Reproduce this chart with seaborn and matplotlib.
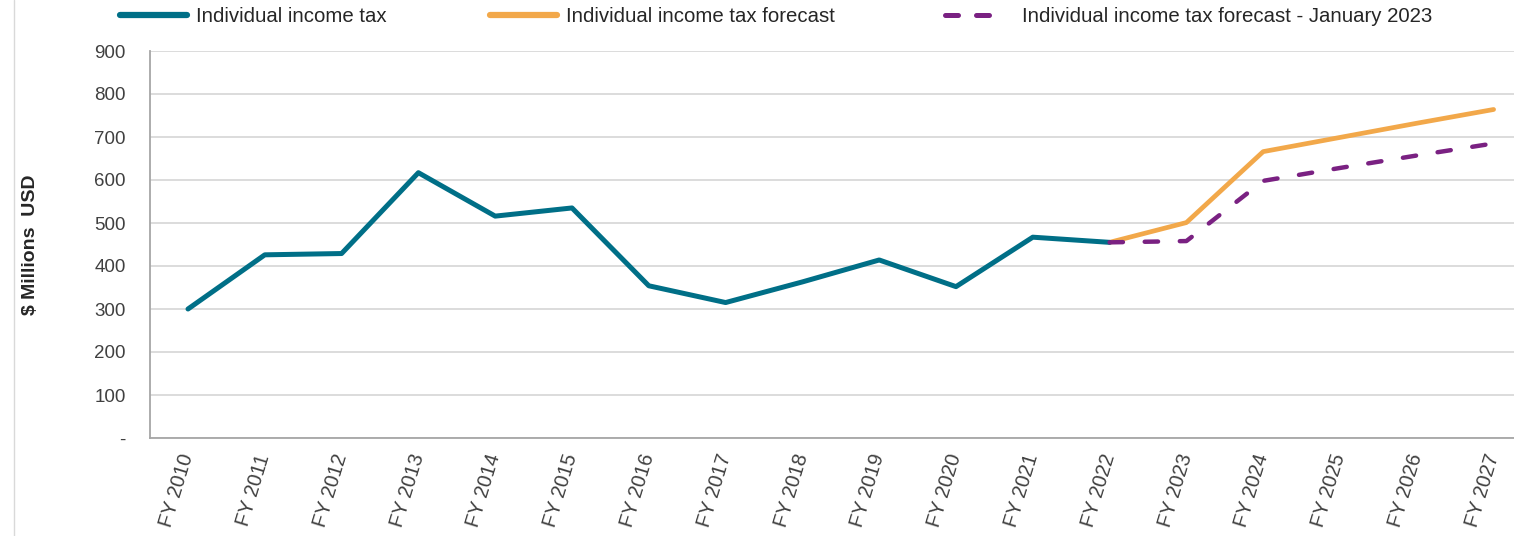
import matplotlib
matplotlib.use("Agg")
import matplotlib.pyplot as plt
import matplotlib.transforms as mtransforms
from matplotlib.lines import Line2D
import seaborn as sns
import pandas as pd

years = ["FY 2010", "FY 2011", "FY 2012", "FY 2013", "FY 2014", "FY 2015", "FY 2016",
         "FY 2017", "FY 2018", "FY 2019", "FY 2020", "FY 2021", "FY 2022", "FY 2023",
         "FY 2024", "FY 2025", "FY 2026", "FY 2027"]
actual_years = years[:13]
actual_vals = [300, 426, 429, 617, 516, 535, 354, 315, 363, 414, 352, 467, 455]
forecast_years = years[12:]
forecast_vals = [455, 501, 666, 699, 732, 764]
jan_vals = [455, 458, 598, 628, 657, 685]

names = ["Individual income tax", "Individual income tax forecast",
         "Individual income tax forecast - January 2023"]
colors = ["#006F87", "#F2A84A", "#7A2182"]

sns.set_theme(style="white")
plt.rcParams["font.family"] = ["Liberation Sans", "DejaVu Sans"]

W, H = 1514, 536
fig = plt.figure(figsize=(W / 100, H / 100), dpi=100)
left_px, right_px, top_px, bot_px = 149.6, 1532.0, 51.0, 438.0
ax = fig.add_axes([left_px / W, 1 - bot_px / H, (right_px - left_px) / W, (bot_px - top_px) / H])

df_a = pd.DataFrame({"year": actual_years, "value": actual_vals})
df_f = pd.DataFrame({"year": forecast_years, "value": forecast_vals})
df_j = pd.DataFrame({"year": forecast_years, "value": jan_vals})

DASH = [3.0, 4.9]
sns.lineplot(data=df_a, x="year", y="value", ax=ax, color=colors[0], linewidth=3.6,
             solid_capstyle="round", solid_joinstyle="round", sort=False, zorder=3)
sns.lineplot(data=df_f, x="year", y="value", ax=ax, color=colors[1], linewidth=3.4,
             solid_capstyle="round", solid_joinstyle="round", sort=False, zorder=2)
sns.lineplot(data=df_j, x="year", y="value", ax=ax, color=colors[2], linewidth=3.2,
             sort=False, zorder=4)
ln = ax.get_lines()[-1]
ln.set_dashes(DASH)
ln.set_dash_capstyle("round")

ax.set_xlim(-0.5, 17.5)
ax.set_ylim(0, 900)
ax.set_yticks(range(0, 901, 100))
ax.set_yticklabels(["-"] + [str(v) for v in range(100, 901, 100)],
                   fontsize=13.5, color="#404040")
ax.set_xticks(range(len(years)))
ax.set_xticklabels(years, rotation=73, ha="right", va="center", rotation_mode="anchor",
                   fontsize=14.5, color="#404040")
shift = mtransforms.ScaledTranslation(7 / 100, 0, fig.dpi_scale_trans)
for lab in ax.get_xticklabels():
    lab.set_transform(lab.get_transform() + shift)
ax.tick_params(axis="x", pad=12, length=0)
ax.tick_params(axis="y", pad=17, length=0)
ax.yaxis.grid(True, color="#D9D9D9", linewidth=1.3)
ax.set_axisbelow(True)
for s in ["top", "right"]:
    ax.spines[s].set_visible(False)
for s in ["left", "bottom"]:
    ax.spines[s].set_color("#A6A6A6")
    ax.spines[s].set_linewidth(1.3)
ax.set_xlabel("")
ax.set_ylabel("$ Millions  USD", fontsize=14, fontweight="bold", color="#262626", labelpad=40)

handles = [Line2D([], [], color=colors[0], lw=4.5, solid_capstyle="round"),
           Line2D([], [], color=colors[1], lw=4.5, solid_capstyle="round"),
           Line2D([], [], color=colors[2], lw=3.6, dashes=[2.6, 3.6], dash_capstyle="round")]
anchors = [120, 490, 945]
hlens = [3.3, 3.3, 2.7]
hpads = [0.4, 0.4, 1.08]
for h, n, a, hl, hp in zip(handles, names, anchors, hlens, hpads):
    fig.legend([h], [n], loc="center left", bbox_to_anchor=(a / W, 1 - 17 / H),
               frameon=False, handlelength=hl, handletextpad=hp,
               prop={"size": 14.7}, labelcolor="#262626", borderaxespad=0,
               borderpad=0)

fig.add_artist(Line2D([14 / W, 14 / W], [0, 1], color="#D9D9D9", lw=1, transform=fig.transFigure))

fig.savefig("out.png", dpi=100)
